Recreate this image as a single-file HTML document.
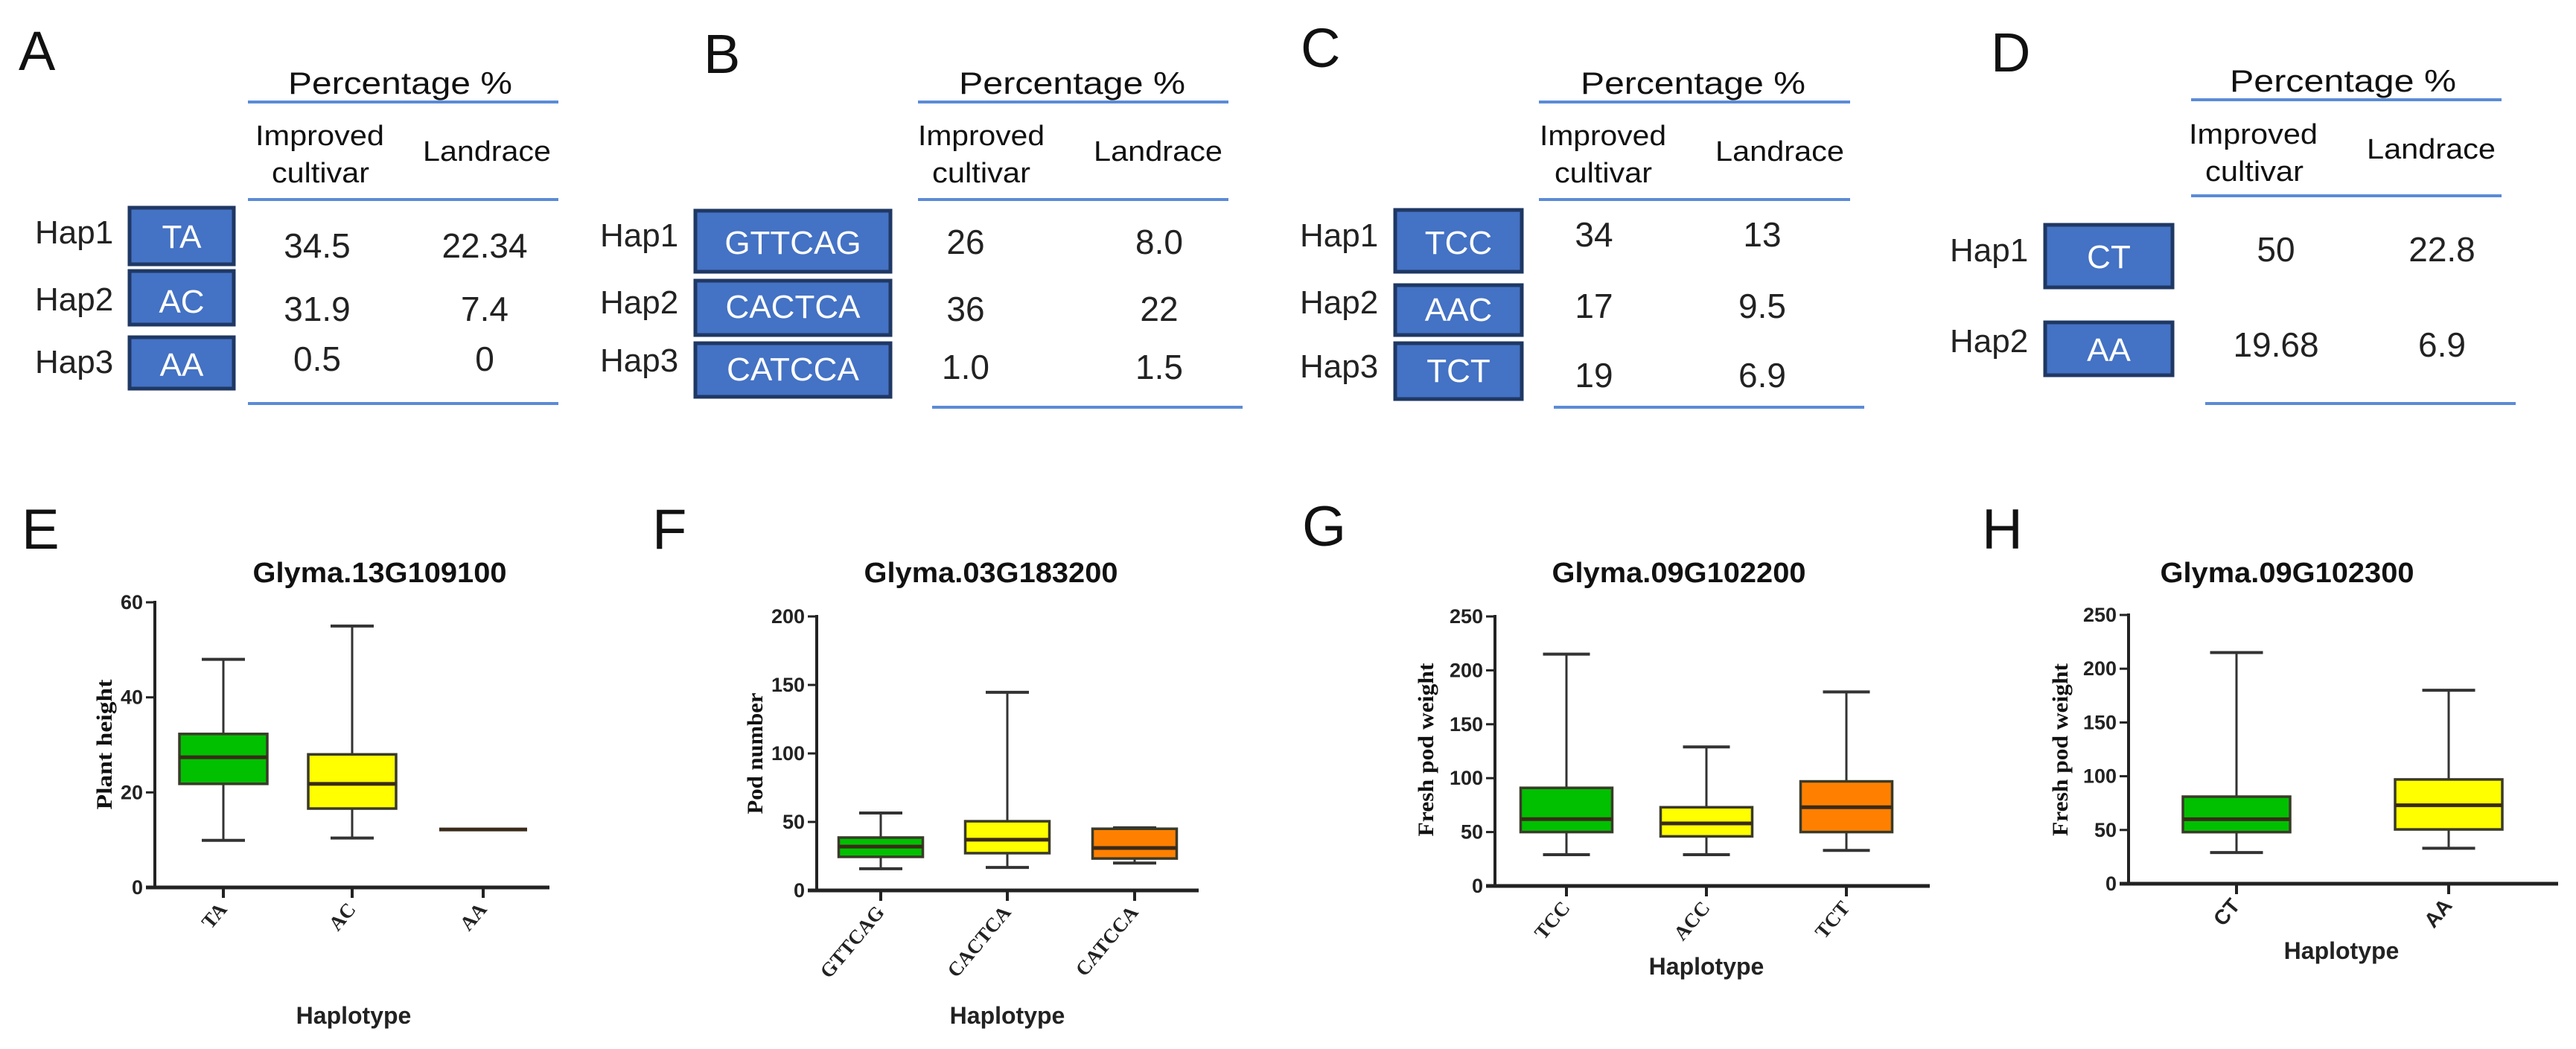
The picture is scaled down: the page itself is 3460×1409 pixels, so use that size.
<!DOCTYPE html>
<html><head><meta charset="utf-8">
<style>
html,body{margin:0;padding:0;background:#fff;}
svg{display:block;}
</style></head>
<body>
<svg id="fig" xmlns="http://www.w3.org/2000/svg" width="3460" height="1409" viewBox="0 0 3460 1409" font-family="Liberation Sans, sans-serif">
<rect x="0" y="0" width="3460" height="1409" fill="#fff"/>
</svg>
<script>
// ---------- table data ----------
const tableLetters = ["A","B","C","D"];
const tableHaps = [["Hap1","Hap2","Hap3"],["Hap1","Hap2","Hap3"],["Hap1","Hap2","Hap3"],["Hap1","Hap2"]];
const tableSeqs = [["TA","AC","AA"],["GTTCAG","CACTCA","CATCCA"],["TCC","AAC","TCT"],["CT","AA"]];
const improvedVals = [["34.5","31.9","0.5"],["26","36","1.0"],["34","17","19"],["50","19.68"]];
const landraceVals = [["22.34","7.4","0"],["8.0","22","1.5"],["13","9.5","6.9"],["22.8","6.9"]];

// ---------- chart data ----------
const titles = ["Glyma.13G109100","Glyma.03G183200","Glyma.09G102200","Glyma.09G102300"];
const yTitles = ["Plant height","Pod number","Fresh pod weight","Fresh pod weight"];
const chartLetters = ["E","F","G","H"];
const catsE = ["TA","AC","AA"];
const minE = [9.9,10.4,12.2];
const q1E = [21.8,16.6,12.2];
const medE = [27.4,21.8,12.2];
const q3E = [32.3,28,12.2];
const maxE = [48,55,12.2];
const ticksE = [0,20,40,60];
const catsF = ["GTTCAG","CACTCA","CATCCA"];
const minF = [15.8,16.8,20];
const q1F = [24.5,27.2,23.3];
const medF = [32,37,31];
const q3F = [38.6,50.5,45];
const maxF = [56.5,144.6,45.7];
const ticksF = [0,50,100,150,200];
const catsG = ["TCC","ACC","TCT"];
const minG = [29,29,33];
const q1G = [50,46,50];
const medG = [62,58,73];
const q3G = [91,73,97];
const maxG = [215,129,180];
const ticksG = [0,50,100,150,200,250];
const catsH = ["CT","AA"];
const minH = [29,33];
const q1H = [48,50.5];
const medH = [60,73];
const q3H = [81,97];
const maxH = [215,180];
const ticksH = [0,50,100,150,200,250];

const NS = "http://www.w3.org/2000/svg";
const svg = document.getElementById("fig");
function mk(tag, attrs, name, parent, txt) {
  const el = document.createElementNS(NS, tag);
  for (const k in attrs) el.setAttribute(k, attrs[k]);
  
  
  if (txt !== undefined) el.textContent = txt;
  (parent || svg).appendChild(el);
  return el;
}

const tLayout = [
 {lx:25,lb:94,pct:[387,688,126],l1:[333,750,137],l2:[333,750,268],l3:[333,750,542],imp:[343,516,195],cul:[365,496,245],lan:[568,740,216],
  hx:47,hb:[327,417,501],bx:[174,314],by:[[279,355],[364,436],[453,522]],tb:[333,420,505],c1:426,c2:651,vb:[346,431,498]},
 {lx:945,lb:98,pct:[1288,1592,126],l1:[1233,1650,137],l2:[1233,1650,268],l3:[1252,1669,547],imp:[1233,1403,195],cul:[1252,1384,245],lan:[1469,1642,216],
  hx:806,hb:[331,421,499],bx:[934,1196],by:[[283,365],[377,450],[461,533]],tb:[341,427,511],c1:1297,c2:1557,vb:[341,431,509]},
 {lx:1747,lb:90,pct:[2123,2425,126],l1:[2067,2485,137],l2:[2067,2485,268],l3:[2087,2504,547],imp:[2068,2238,195],cul:[2088,2219,245],lan:[2304,2477,216],
  hx:1746,hb:[331,421,507],bx:[1874,2044],by:[[282,365],[383,450],[461,536]],tb:[341,431,513],c1:2141,c2:2367,vb:[331,427,520]},
 {lx:2674,lb:96,pct:[2995,3299,123],l1:[2943,3360,134],l2:[2943,3360,263],l3:[2962,3379,542],imp:[2940,3113,193],cul:[2962,3094,243],lan:[3179,3352,213],
  hx:2619,hb:[351,473],bx:[2747,2918],by:[[302,386],[433,504]],tb:[360,485],c1:3057,c2:3280,vb:[351,479]}
];
const narrow = 'Liberation Sans Narrow, Liberation Sans, sans-serif';
const serif = 'Liberation Serif, serif';
tLayout.forEach((L, i) => {
  const g = mk('g', {}, 'table-panel-' + tableLetters[i].toLowerCase());
  mk('text', {x:L.lx, y:L.lb, 'font-size':74, fill:'#111'}, 'panel-label-' + tableLetters[i].toLowerCase(), g, tableLetters[i]);
  mk('text', {x:L.pct[0], y:L.pct[2], 'font-size':42, 'font-family':narrow, textLength:L.pct[1]-L.pct[0], lengthAdjust:'spacingAndGlyphs', fill:'#111'}, 'percentage-header', g, 'Percentage %');
  [L.l1, L.l2, L.l3].forEach((l, k) => {
    mk('line', {x1:l[0], x2:l[1], y1:l[2], y2:l[2], stroke:'#5B8BD6', 'stroke-width':4}, 'table-rule-' + (k+1), g);
  });
  mk('text', {x:L.imp[0], y:L.imp[2], 'font-size':38, 'font-family':narrow, textLength:L.imp[1]-L.imp[0], lengthAdjust:'spacingAndGlyphs', fill:'#111'}, 'improved-header', g, 'Improved');
  mk('text', {x:L.cul[0], y:L.cul[2], 'font-size':38, 'font-family':narrow, textLength:L.cul[1]-L.cul[0], lengthAdjust:'spacingAndGlyphs', fill:'#111'}, 'cultivar-header', g, 'cultivar');
  mk('text', {x:L.lan[0], y:L.lan[2], 'font-size':38, 'font-family':narrow, textLength:L.lan[1]-L.lan[0], lengthAdjust:'spacingAndGlyphs', fill:'#111'}, 'landrace-header', g, 'Landrace');
  tableHaps[i].forEach((h, r) => {
    mk('text', {x:L.hx, y:L.hb[r], 'font-size':44, fill:'#222'}, 'hap-label', g, h);
    const by = L.by[r];
    mk('rect', {x:L.bx[0], y:by[0], width:L.bx[1]-L.bx[0], height:by[1]-by[0], fill:'#4472C4', stroke:'#1F3864', 'stroke-width':5}, 'haplotype-box', g);
    mk('text', {x:(L.bx[0]+L.bx[1])/2, y:L.tb[r], 'font-size':44, 'text-anchor':'middle', fill:'#fff'}, 'haplotype-sequence', g, tableSeqs[i][r]);
    mk('text', {x:L.c1, y:L.vb[r], 'font-size':46, 'text-anchor':'middle', fill:'#222'}, 'improved-value', g, improvedVals[i][r]);
    mk('text', {x:L.c2, y:L.vb[r], 'font-size':46, 'text-anchor':'middle', fill:'#222'}, 'landrace-value', g, landraceVals[i][r]);
  });
});

const charts = [
 {cats:catsE,mn:minE,q1:q1E,md:medE,q3:q3E,mx:maxE,ticks:ticksE,ax:208,y0:1192,yt:809,xe:738,cx:[300,473,649],bw:118,cw:58,
  lx:29,lb:737,tc:510,ytx:150,yty:1000,ytl:175,hx:475,hb:1375,sans:false,colors:['#00C000','#FFFF00','#555555']},
 {cats:catsF,mn:minF,q1:q1F,md:medF,q3:q3F,mx:maxF,ticks:ticksF,ax:1097,y0:1196,yt:828,xe:1610,cx:[1183,1353,1524],bw:113,cw:58,
  lx:876,lb:737,tc:1331,ytx:1024,yty:1012,ytl:163,hx:1353,hb:1375,sans:false,colors:['#00C000','#FFFF00','#FF8000']},
 {cats:catsG,mn:minG,q1:q1G,md:medG,q3:q3G,mx:maxG,ticks:ticksG,ax:2008,y0:1190,yt:828,xe:2592,cx:[2104,2292,2480],bw:123,cw:63,
  lx:1749,lb:733,tc:2255,ytx:1925,yty:1007,ytl:233,hx:2292,hb:1309,sans:false,colors:['#00C000','#FFFF00','#FF8000']},
 {cats:catsH,mn:minH,q1:q1H,md:medH,q3:q3H,mx:maxH,ticks:ticksH,ax:2859,y0:1187,yt:826,xe:3436,cx:[3004,3289],bw:144,cw:71,
  lx:2662,lb:737,tc:3072,ytx:2777,yty:1007,ytl:232,hx:3145,hb:1288,sans:true,colors:['#00C000','#FFFF00']}
];
charts.forEach((C, i) => {
  const g = mk('g', {}, 'boxplot-panel-' + chartLetters[i].toLowerCase());
  const ymax = C.ticks[C.ticks.length-1];
  const ys = v => C.y0 - (v / ymax) * (C.y0 - C.yt);
  mk('text', {x:C.lx, y:C.lb, 'font-size':76, fill:'#111'}, 'panel-label-' + chartLetters[i].toLowerCase(), g, chartLetters[i]);
  mk('text', {x:C.tc, y:782, 'font-size':38, 'font-weight':'bold', 'font-family':narrow, 'text-anchor':'middle', textLength:341, lengthAdjust:'spacingAndGlyphs', fill:'#111'}, 'chart-title', g, titles[i]);
  mk('line', {x1:C.ax, x2:C.ax, y1:C.yt-2, y2:C.y0, stroke:'#222', 'stroke-width':4}, 'y-axis', g);
  mk('line', {x1:C.ax-12, x2:C.xe, y1:C.y0, y2:C.y0, stroke:'#222', 'stroke-width':5}, 'x-axis', g);
  C.ticks.forEach(t => {
    const y = ys(t);
    mk('line', {x1:C.ax-12, x2:C.ax, y1:y, y2:y, stroke:'#222', 'stroke-width':3}, 'y-tick', g);
    mk('text', {x:C.ax-16, y:y+9, 'font-size':27, 'font-weight':'bold', 'font-family':narrow, 'text-anchor':'end', fill:'#222'}, 'y-tick-label', g, String(t));
  });
  mk('text', {x:C.ytx, y:C.yty, 'font-size':30, 'font-weight':'bold', 'font-family':serif, 'text-anchor':'middle', textLength:C.ytl, lengthAdjust:'spacingAndGlyphs', transform:'rotate(-90 '+C.ytx+' '+C.yty+')', fill:'#111'}, 'y-axis-title', g, yTitles[i]);
  mk('text', {x:C.hx, y:C.hb, 'font-size':32, 'font-weight':'bold', 'font-family':narrow, 'text-anchor':'middle', fill:'#222'}, 'x-axis-title', g, 'Haplotype');
  C.cats.forEach((cat, k) => {
    const x = C.cx[k];
    mk('line', {x1:x, x2:x, y1:C.y0, y2:C.y0+14, stroke:'#222', 'stroke-width':4}, 'x-tick', g);
    const tx = x + 6, ty = C.y0 + 30;
    mk('text', {x:tx, y:ty, 'font-size':C.sans ? 28 : 27, 'font-weight':'bold', 'font-family':C.sans ? 'Liberation Sans, sans-serif' : serif, 'text-anchor':'end', transform:'rotate(-50 '+tx+' '+ty+')', fill:'#222'}, 'x-tick-label', g, cat);
    mk('line', {x1:x, x2:x, y1:ys(C.mx[k]), y2:ys(C.q3[k]), stroke:'#333', 'stroke-width':3}, 'whisker-upper', g);
    mk('line', {x1:x, x2:x, y1:ys(C.q1[k]), y2:ys(C.mn[k]), stroke:'#333', 'stroke-width':3}, 'whisker-lower', g);
    mk('line', {x1:x-C.cw/2, x2:x+C.cw/2, y1:ys(C.mx[k]), y2:ys(C.mx[k]), stroke:'#333', 'stroke-width':4}, 'whisker-cap-max', g);
    mk('line', {x1:x-C.cw/2, x2:x+C.cw/2, y1:ys(C.mn[k]), y2:ys(C.mn[k]), stroke:'#333', 'stroke-width':4}, 'whisker-cap-min', g);
    mk('rect', {x:x-C.bw/2, y:ys(C.q3[k]), width:C.bw, height:Math.max(0, ys(C.q1[k]) - ys(C.q3[k])), fill:C.colors[k], stroke:'#3a3a2a', 'stroke-width':3.5}, 'box-' + cat.toLowerCase(), g);
    mk('line', {x1:x-C.bw/2, x2:x+C.bw/2, y1:ys(C.md[k]), y2:ys(C.md[k]), stroke:'#3a2a1a', 'stroke-width':5}, 'median-line', g);
  });
});
</script>
</body></html>
